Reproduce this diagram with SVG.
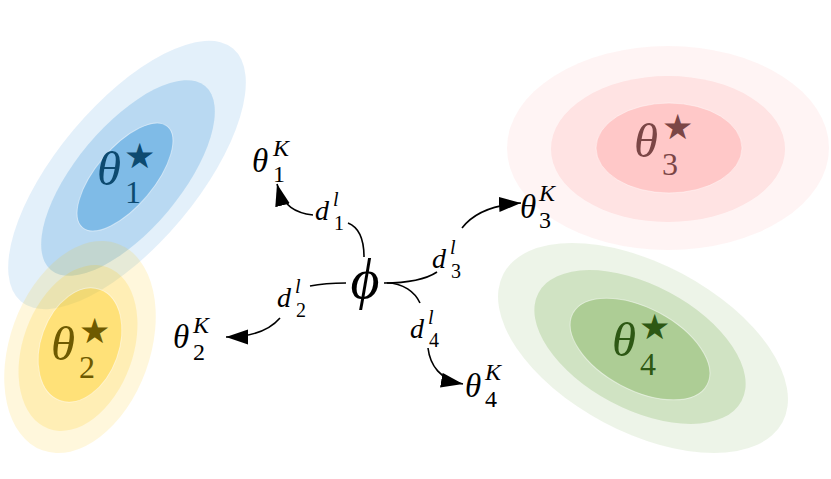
<svg xmlns="http://www.w3.org/2000/svg" width="831" height="479" viewBox="0 0 831 479">
<style>
.m{font-family:"Liberation Serif","DejaVu Serif",serif;font-style:italic}
.u{font-family:"Liberation Serif","DejaVu Serif",serif;font-style:normal}
.st{font-family:"DejaVu Sans",sans-serif;font-size:35px}
.big{font-size:49px}
.bigs{font-size:32px}
.tk{font-size:33px}
.tks{font-size:24px}
.dl{font-size:28px}
.dls{font-size:20px}
.edge{fill:none;stroke:#000;stroke-width:1.6}
.rim{stroke:#fff;stroke-opacity:0.45;stroke-width:1}
.blue{fill:#0078cd}
.yel{fill:#ffc800}
.red{fill:#ff3c3c}
.grn{fill:#50961e}
</style>
<defs>
<marker id="ah" markerUnits="userSpaceOnUse" markerWidth="24" markerHeight="16" refX="22" refY="7.5" orient="auto">
<path d="M0,0 L22,7.5 L0,15 z" fill="#000"/>
</marker>
</defs>
<rect width="831" height="479" fill="#fff"/>

<g id="theta3star">
<ellipse class="red" cx="668" cy="148" rx="161" ry="102" fill-opacity="0.06"/>
<ellipse class="red" cx="668" cy="149" rx="117" ry="73" fill-opacity="0.089"/>
<ellipse class="red rim" cx="669" cy="148" rx="73" ry="45" fill-opacity="0.155"/>
<text class="m big" x="634" y="157" fill="#7b4646">θ</text>
<text class="st" x="662" y="139" fill="#7b4646">★</text>
<text class="u bigs" x="662" y="175" fill="#7b4646">3</text>
</g>

<g id="theta4star">
<ellipse class="grn" cx="643" cy="348" rx="158" ry="84" transform="rotate(28 643 348)" fill-opacity="0.103"/>
<ellipse class="grn" cx="640" cy="347" rx="115" ry="62" transform="rotate(28 640 347)" fill-opacity="0.186"/>
<ellipse class="grn rim" cx="640" cy="349" rx="76" ry="41" transform="rotate(28 640 349)" fill-opacity="0.274"/>
<text class="m big" x="612" y="356" fill="#2d5814">θ</text>
<text class="st" x="639" y="339" fill="#2d5814">★</text>
<text class="u bigs" x="640" y="375" fill="#2d5814">4</text>
</g>

<g id="theta1star">
<ellipse class="blue" cx="127" cy="175" rx="165" ry="70" transform="rotate(-50 127 175)" fill-opacity="0.11"/>
<ellipse class="blue" cx="128" cy="178" rx="120" ry="52" transform="rotate(-50 128 178)" fill-opacity="0.185"/>
<ellipse class="blue rim" cx="125" cy="177" rx="66" ry="29" transform="rotate(-50 125 177)" fill-opacity="0.31"/>
<text class="m big" x="97" y="185" fill="#0d4a70">θ</text>
<text class="st" x="124" y="168" fill="#0d4a70">★</text>
<text class="u bigs" x="125" y="203" fill="#0d4a70">1</text>
</g>

<g id="theta2star">
<ellipse class="yel" cx="80" cy="347" rx="70" ry="110" transform="rotate(20 80 347)" fill-opacity="0.137"/>
<ellipse class="yel" cx="78" cy="348" rx="55" ry="86" transform="rotate(20 78 348)" fill-opacity="0.177"/>
<ellipse class="yel rim" cx="80" cy="345" rx="39" ry="59" transform="rotate(20 80 345)" fill-opacity="0.338"/>
<text class="m big" x="51" y="360" fill="#6e5a00">θ</text>
<text class="st" x="79" y="343" fill="#6e5a00">★</text>
<text class="u bigs" x="79" y="378" fill="#6e5a00">2</text>
</g>

<g id="connectors">
<g id="e1"><path class="edge" d="M364,257 C364,238 358,227 348,223"/><path class="edge" d="M313,215 C296,213 283,207 277,184" marker-end="url(#ah)"/></g>
<g id="e2"><path class="edge" d="M346,283 C332,283 320,284 310,286"/><path class="edge" d="M280,318 C268,332 250,337 226,337" marker-end="url(#ah)"/></g>
<g id="e3"><path class="edge" d="M384,283 C405,283 425,280 437,272"/><path class="edge" d="M462,228 C472,215 490,205 521,203" marker-end="url(#ah)"/></g>
<g id="e4"><path class="edge" d="M387,283 C403,283 415,292 420,303"/><path class="edge" d="M428,348 C430,365 440,380 463,384" marker-end="url(#ah)"/></g>
</g>

<g id="phi">
<text class="m" x="365" y="298" font-size="56" text-anchor="middle">ϕ</text>
</g>

<g id="d1">
<text class="m dl" x="315" y="220">d</text>
<text class="m dls" x="333" y="206">l</text>
<text class="u dls" x="334" y="230">1</text>
</g>
<g id="d2">
<text class="m dl" x="277" y="307">d</text>
<text class="m dls" x="295" y="293">l</text>
<text class="u dls" x="296" y="317">2</text>
</g>
<g id="d3">
<text class="m dl" x="432" y="268">d</text>
<text class="m dls" x="450" y="254">l</text>
<text class="u dls" x="451" y="278">3</text>
</g>
<g id="d4">
<text class="m dl" x="410" y="338">d</text>
<text class="m dls" x="428" y="324">l</text>
<text class="u dls" x="429" y="347">4</text>
</g>

<g id="theta1K">
<text class="m tk" x="252" y="172">θ</text>
<text class="m tks" x="273" y="156">K</text>
<text class="u tks" x="273" y="182">1</text>
</g>
<g id="theta2K">
<text class="m tk" x="173" y="348">θ</text>
<text class="m tks" x="193" y="333">K</text>
<text class="u tks" x="193" y="360">2</text>
</g>
<g id="theta3K">
<text class="m tk" x="520" y="218">θ</text>
<text class="m tks" x="539" y="201">K</text>
<text class="u tks" x="539" y="228">3</text>
</g>
<g id="theta4K">
<text class="m tk" x="465" y="397">θ</text>
<text class="m tks" x="485" y="380">K</text>
<text class="u tks" x="485" y="407">4</text>
</g>
</svg>
